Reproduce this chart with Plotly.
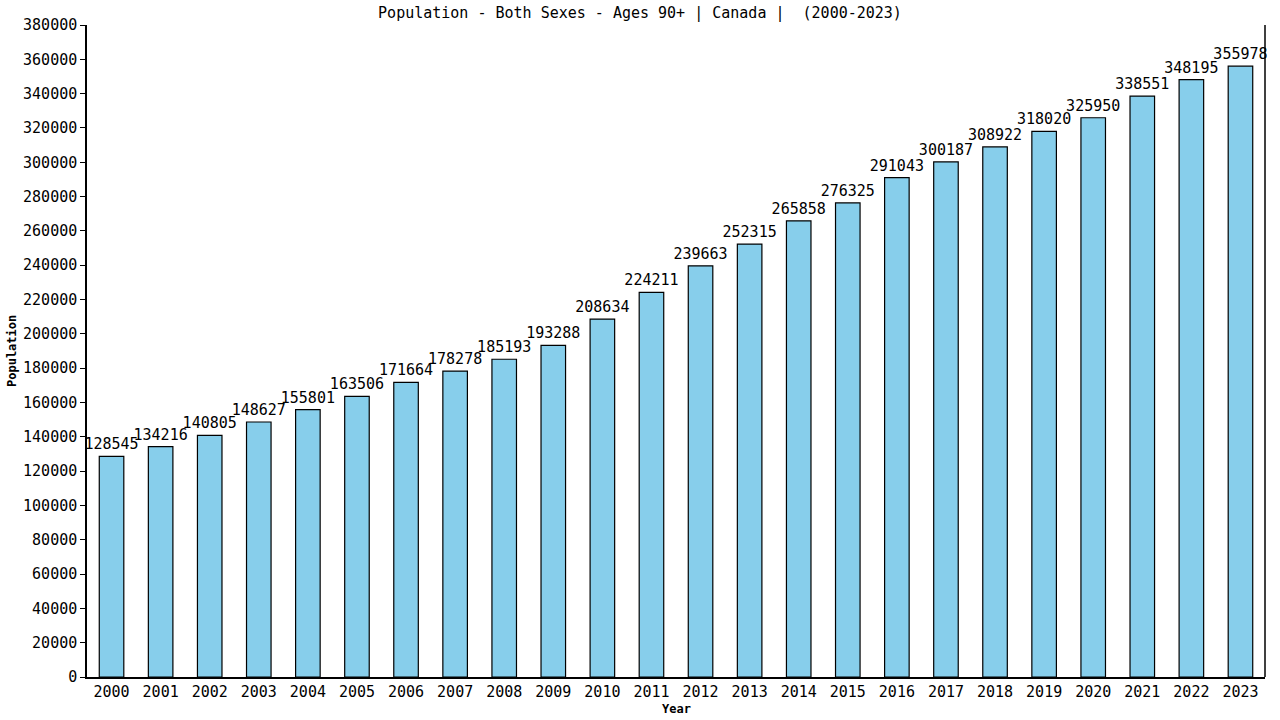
import plotly.graph_objects as go

years = [str(y) for y in range(2000, 2024)]
population = [128545, 134216, 140805, 148627, 155801, 163506, 171664, 178278,
              185193, 193288, 208634, 224211, 239663, 252315, 265858, 276325,
              291043, 300187, 308922, 318020, 325950, 338551, 348195, 355978]

y_ticks = list(range(0, 380001, 20000))

FONT = "DejaVu Sans Mono"

fig = go.Figure()

fig.add_trace(go.Bar(
    x=years,
    y=population,
    width=0.5,
    marker=dict(color="#87CEEB", line=dict(color="black", width=1.2)),
    text=[str(v) for v in population],
    textposition="outside",
    textfont=dict(family=FONT, size=15, color="black"),
    constraintext="none",
    cliponaxis=False,
))

fig.update_layout(
    width=1280,
    height=720,
    margin=dict(l=87, r=15, t=25, b=43, autoexpand=False),
    plot_bgcolor="white",
    paper_bgcolor="white",
    showlegend=False,
    title=dict(
        text="Population - Both Sexes - Ages 90+ | Canada |  (2000-2023)",
        x=0.5, xanchor="center", xref="container",
        y=1 - 13 / 720, yref="container", yanchor="middle",
        font=dict(family=FONT, size=15, color="black"),
    ),
    font=dict(family=FONT, color="black"),
)

fig.update_xaxes(
    type="category",
    range=[-0.5, 23.5],
    automargin=False,
    showline=True, linecolor="black", linewidth=1.5,
    ticks="", showgrid=False,
    tickfont=dict(family=FONT, size=15, color="black"),
)

fig.update_yaxes(
    range=[0, 380000],
    automargin=False,
    tickvals=y_ticks,
    ticktext=[str(v) for v in y_ticks],
    showline=True, linecolor="black", linewidth=1.5,
    ticks="outside", ticklen=5, tickcolor="black",
    showgrid=False, zeroline=False,
    tickfont=dict(family=FONT, size=15, color="black"),
)

# axis titles
fig.add_annotation(text="<b>Year</b>", xref="paper", yref="paper",
                   x=0.5, y=-32 / 652, yanchor="middle", showarrow=False,
                   font=dict(family=FONT, size=12, color="black"))
fig.add_annotation(text="<b>Population</b>", xref="paper", yref="paper",
                   x=-75 / 1178, y=0.5, xanchor="center", textangle=-90,
                   showarrow=False, font=dict(family=FONT, size=12, color="black"))

# right border line of the plot area
fig.add_shape(type="line", xref="paper", yref="paper", x0=1, x1=1, y0=0, y1=1,
              line=dict(color="black", width=1.5))

# drop the browser's default body margin so the figure sits at the page corner
fig.write_html("out.html", config={"displayModeBar": False},
               post_script="document.body.style.margin = '0';")
